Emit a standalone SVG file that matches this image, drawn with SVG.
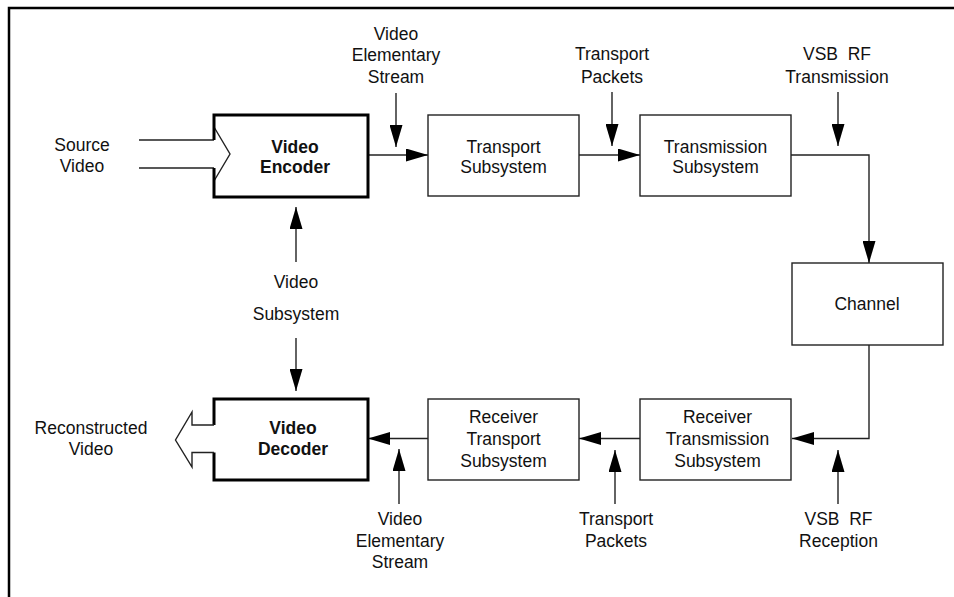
<svg xmlns="http://www.w3.org/2000/svg" width="954" height="597" viewBox="0 0 954 597">
<defs>
<marker id="ah" markerUnits="userSpaceOnUse" markerWidth="22" markerHeight="13" refX="22" refY="6.5" orient="auto">
<path d="M0,0 L22,6.5 L0,13 z" fill="#000"/>
</marker>
<style>
text{font-family:"Liberation Sans",Arial,sans-serif;font-size:17.5px;fill:#111;text-anchor:middle}
.b{font-weight:bold}
.box{fill:#fff;stroke:#222;stroke-width:1.4}
.thick{fill:none;stroke:#000;stroke-width:3;stroke-linejoin:miter}
.ln{fill:none;stroke:#222;stroke-width:1.4}
.c{fill:none;stroke:#222;stroke-width:1.4}
.ca{fill:none;stroke:#222;stroke-width:1.4;marker-end:url(#ah)}
</style>
</defs>
<rect width="954" height="597" fill="#fff"/>
<path d="M9,597 V8 H954" fill="none" stroke="#000" stroke-width="2.5"/>

<g id="connectors">
<path class="ca" d="M368,155 H428"/>
<path class="ca" d="M579,155 H640"/>
<path class="ca" d="M791,155 H869 V263"/>
<path class="ca" d="M869,345 V438.5 H792"/>
<path class="ca" d="M640,438.5 H579"/>
<path class="ca" d="M428,438.5 H368"/>
<path class="ca" d="M396,93 V147"/>
<path class="ca" d="M612,92 V146"/>
<path class="ca" d="M838,92 V146"/>
<path class="ca" d="M296,262 V207"/>
<path class="ca" d="M296,338 V391"/>
<path class="ca" d="M399,504 V449"/>
<path class="ca" d="M615,504 V450"/>
<path class="ca" d="M838,504 V450"/>
</g>

<g id="source-video">
<path class="ln" d="M139,140 H214 M139,168 H214 M214,127 L230,154 L214,181"/>
<text x="82" y="150.5">Source</text>
<text x="82" y="171.5">Video</text>
</g>

<g id="video-encoder">
<path class="thick" d="M214,140 V115 H368 V197 H214 V168"/>
<text class="b" x="295" y="152.5">Video</text>
<text class="b" x="295" y="173">Encoder</text>
</g>

<g id="transport-subsystem">
<rect class="box" x="428" y="115" width="151" height="81"/>
<text x="503.5" y="152.5">Transport</text>
<text x="503.5" y="173">Subsystem</text>
</g>

<g id="transmission-subsystem">
<rect class="box" x="640" y="115" width="151" height="81"/>
<text x="715.5" y="152.5">Transmission</text>
<text x="715.5" y="173">Subsystem</text>
</g>

<g id="channel">
<rect class="box" x="792" y="263" width="151" height="82"/>
<text x="867" y="310">Channel</text>
</g>

<g id="video-decoder">
<path class="thick" d="M214,425 V399 H368 V480 H214 V452.5"/>
<path class="ln" d="M214,425 H192 V412 L175.5,440 L192,467 V452.5 H214"/>
<text class="b" x="293" y="433.5">Video</text>
<text class="b" x="293" y="455">Decoder</text>
</g>

<g id="receiver-transport-subsystem">
<rect class="box" x="428" y="399" width="151" height="81"/>
<text x="503.5" y="422.5">Receiver</text>
<text x="503.5" y="444.5">Transport</text>
<text x="503.5" y="466.5">Subsystem</text>
</g>

<g id="receiver-transmission-subsystem">
<rect class="box" x="640" y="399" width="151" height="81"/>
<text x="717.5" y="422.5">Receiver</text>
<text x="717.5" y="444.5">Transmission</text>
<text x="717.5" y="466.5">Subsystem</text>
</g>

<g id="labels">
<text x="396" y="39.5">Video</text>
<text x="396" y="61">Elementary</text>
<text x="396" y="82.5">Stream</text>
<text x="612" y="59.5">Transport</text>
<text x="612" y="82.5">Packets</text>
<text x="837" y="59.5" xml:space="preserve">VSB  RF</text>
<text x="837" y="82.5">Transmission</text>
<text x="296" y="288">Video</text>
<text x="296" y="319.5">Subsystem</text>
<text x="91" y="433.5">Reconstructed</text>
<text x="91" y="454.5">Video</text>
<text x="400" y="525">Video</text>
<text x="400" y="546.5">Elementary</text>
<text x="400" y="568">Stream</text>
<text x="616" y="525">Transport</text>
<text x="616" y="546.5">Packets</text>
<text x="838.5" y="525" xml:space="preserve">VSB  RF</text>
<text x="838.5" y="546.5">Reception</text>
</g>
</svg>
